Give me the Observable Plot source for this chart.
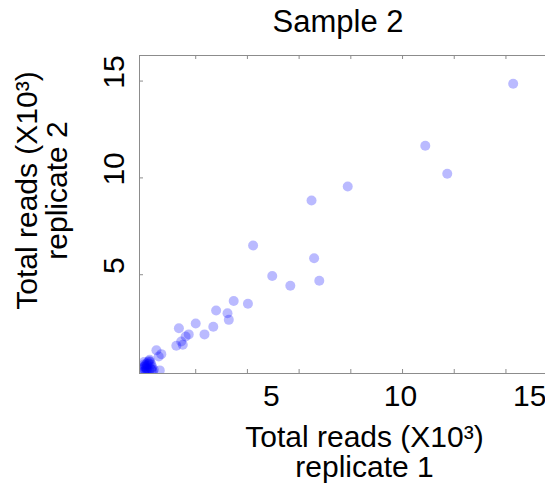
<!DOCTYPE html>
<html>
<head>
<meta charset="utf-8">
<script src="https://cdn.jsdelivr.net/npm/d3@7"></script>
<script src="https://cdn.jsdelivr.net/npm/@observablehq/plot@0.6"></script>
<style>
  html, body { margin: 0; padding: 0; background: #fff; }
</style>
</head>
<body>
<div id="chart"></div>
<script>
// Data (thousands of reads)
const replicate1 = [14.28, 10.88, 11.73, 7.88, 6.48, 4.22, 6.58, 4.96, 6.78, 5.66,
  3.47, 4.02, 2.79, 3.23, 3.28, 2.00, 1.35, 2.68, 2.34, 1.73,
  1.50, 1.25, 1.61, 1.44, 0.48, 0.67, 0.57, 0.61,
  0.00, 0.12, 0.25, 0.19, 0.06, 0.32, 0.38, 0.00, 0.22, 0.10,
  0.28, 0.00, 0.00, 0.15, 0.02, 0.00, 0.30, 0.08,
  0.05, 0.18, 0.26, 0.12, 0.00, 0.20, 0.10, 0.34];
const replicate2 = [14.86, 11.66, 10.21, 9.56, 8.83, 6.51, 5.85, 4.93, 4.69, 4.43,
  3.64, 3.50, 3.15, 3.01, 2.67, 2.48, 2.24, 2.31, 1.92, 1.92,
  1.38, 1.33, 1.81, 1.55, 1.10, 0.90, 0.78, 0.06,
  0.14, 0.31, 0.49, 0.06, 0.00, 0.23, 0.09, 0.37, 0.61, 0.14,
  0.37, 0.02, 0.00, 0.49, 0.26, 0.49, 0.10, 0.20,
  0.33, 0.40, 0.15, 0.05, 0.24, 0.55, 0.42, 0.02];

const titleText = "Sample 2";
const xLabel = "Total reads (X10³)\nreplicate 1";
const yLabel = "Total reads (X10³)\nreplicate 2";
const xTickLabels = [5, 10, 15];
const yTickLabels = [5, 10, 15];
const xTickMarks = [2, 4, 6, 8, 10, 12, 14];
const yTickMarks = [5, 10, 15];
const xDomain = [-0.174, 15.53];
const yDomain = [-0.1, 16.32];

const points = replicate1.map((v, i) => ({r1: v, r2: replicate2[i]}));

const W = 545, H = 497;
const mL = 139, mR = 0, mT = 55, mB = 124;
const innerW = W - mL - mR, innerH = H - mT - mB;
const axisColor = "#8c8c8c";
const font = "Liberation Sans, Arial, Helvetica, sans-serif";

const chart = Plot.plot({
  width: W,
  height: H,
  marginLeft: mL,
  marginRight: mR,
  marginTop: mT,
  marginBottom: mB,
  style: {fontFamily: font, background: "#fff", color: "#000"},
  x: {domain: xDomain, label: null},
  y: {domain: yDomain, label: null},
  marks: [
    Plot.dot(points, {x: "r1", y: "r2", r: 5, fill: "blue", fillOpacity: 0.27, stroke: null, clip: true}),
    // frame lines
    Plot.ruleX([xDomain[0]], {stroke: axisColor}),
    Plot.ruleY([yDomain[0], yDomain[1]], {stroke: axisColor}),
    // inward tick marks
    Plot.tickX(xTickMarks, {x: d => d, stroke: axisColor, insetTop: innerH - 4}),
    Plot.tickX(xTickMarks, {x: d => d, stroke: axisColor, insetBottom: innerH - 4}),
    Plot.tickY(yTickMarks, {y: d => d, stroke: axisColor, insetRight: innerW - 4}),
    // tick labels
    Plot.axisX(xTickLabels, {anchor: "bottom", label: null, tickSize: 0, tickPadding: 11, fontSize: 30, dx: -2, tickFormat: d => String(d)}),
    Plot.axisY(yTickLabels, {anchor: "left", label: null, tickSize: 0, tickPadding: 16, tickRotate: -90, fontSize: 30, dy: -9, tickFormat: d => String(d)}),
    // titles
    Plot.text([titleText], {frameAnchor: "top", lineAnchor: "bottom", dy: -23.3, dx: -4.5, fontSize: 31, fill: "#000"}),
    Plot.text([xLabel], {frameAnchor: "bottom", lineAnchor: "top", lineHeight: 1, dy: 52.4, dx: 22, fontSize: 30, fill: "#000"}),
    Plot.text([yLabel], {frameAnchor: "left", textAnchor: "middle", lineAnchor: "middle", lineHeight: 1, rotate: -90, dx: -97, dy: -24, fontSize: 30, fill: "#000"})
  ]
});
document.getElementById("chart").appendChild(chart);
</script>
</body>
</html>
